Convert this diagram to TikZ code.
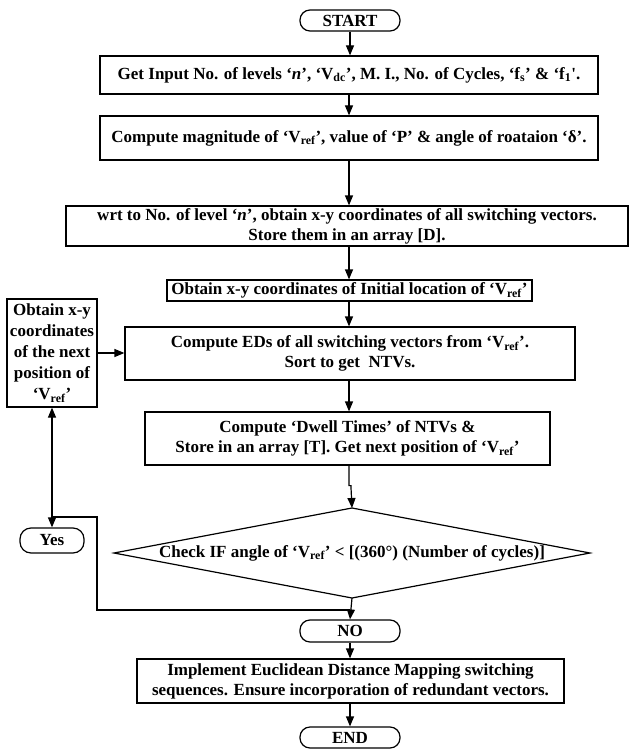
\documentclass[tikz,border=0pt]{standalone}
\usepackage{fontspec}
\setmainfont{Liberation Serif}
\usetikzlibrary{arrows.meta,calc}
\tikzset{
  base/.style={draw, line width=1.2pt, inner sep=0pt, align=center, font=\fontsize{17}{20}\selectfont\bfseries},
  proc/.style={base},
  term/.style={base, rounded corners=10pt, minimum width=100pt},
  arr/.style={line width=1.2pt, -{Triangle[length=10pt,width=8pt]}},
  arrs/.style={line width=1.2pt, {Triangle[length=10pt,width=8pt]}-{Triangle[length=10pt,width=8pt]}},
  ln/.style={line width=1.2pt},
}
\newcommand{\Vr}{V\textsubscript{ref}}
\begin{document}
\begin{tikzpicture}[x=1pt,y=-1pt]
\useasboundingbox (0,0) rectangle (630,749);
\node[term, minimum height=21pt] (start) at (350,20.5) {START};
\node[proc, minimum width=498pt, minimum height=38pt] (b1) at (349,75)
  {Get Input No. of levels ‘\textit{n}’, ‘V\textsubscript{dc}’, M. I., No. of Cycles, ‘f\textsubscript{s}’ \& ‘f\textsubscript{1}\textquotesingle.};
\node[proc, minimum width=498pt, minimum height=44pt] (b2) at (349,138)
  {Compute magnitude of ‘\Vr’, value of ‘P’ \& angle of roataion ‘δ’.};
\node[proc, minimum width=562pt, minimum height=40pt] (b3) at (347,226)
  {wrt to No. of level ‘\textit{n}’, obtain x-y coordinates of all switching vectors.\\ Store them in an array [D].};
\node[proc, minimum width=365pt, minimum height=21pt] (b4) at (349.5,290.5)
  {Obtain x-y coordinates of Initial location of ‘\Vr’};
\node[proc, minimum width=450pt, minimum height=53pt] (b5) at (350,353.5)
  {Compute EDs of all switching vectors from ‘\Vr’.\\ Sort to get\ \ NTVs.};
\node[proc, minimum width=90pt, minimum height=108pt, font=\fontsize{17}{21}\selectfont\bfseries] (lb) at (52,353)
  {Obtain x-y\\ coordinates\\ of the next\\ position of\\ ‘\Vr’};
\node[proc, minimum width=405pt, minimum height=53pt] (b6) at (347.5,438.5)
  {Compute ‘Dwell Times’ of NTVs \&\\ Store in an array [T]. Get next position of ‘\Vr’};
\node[base, draw=none] (dia) at (352,553)
  {Check IF angle of ‘\Vr’ < [(360°) (Number of cycles)]};
\coordinate (dT) at (352,508);
\coordinate (dB) at (352,598);
\coordinate (dL) at (114,553);
\coordinate (dR) at (590,553);
\draw[ln] (dT) -- (dR) -- (dB) -- (dL) -- cycle;
\node[term, minimum width=64pt, minimum height=25pt, rounded corners=11pt] (yes) at (52,540.5) {Yes};
\node[term, minimum height=22pt] (no) at (350,631) {NO};
\node[proc, minimum width=427pt, minimum height=44pt] (b7) at (350.5,681)
  {Implement Euclidean Distance Mapping switching\\ sequences. Ensure incorporation of redundant vectors.};
\node[term, minimum height=21pt] (end) at (350,737.5) {END};
\coordinate (j1) at (97,517);
\coordinate (j2) at (97,610);
% main flow
\draw[arr] (start.south) -- (start.south |- b1.north);
\draw[arr] (b1.south) -- (b1.south |- b2.north);
\draw[arr] (b2.south) -- (b2.south |- b3.north);
\draw[arr] (b2.south |- b3.south) -- (b2.south |- b4.north);
\draw[arr] (b2.south |- b4.south) -- (b2.south |- b5.north);
\draw[arr] (b2.south |- b5.south) -- (b2.south |- b6.north);
\draw[arr] (b2.south |- b6.south) -- ++(0,20) -- ++(2,0) -- ++(0,2) -- (dT);
\draw[arr] (dB) -- (no.north);
\draw[arr] (no.south) -- (no.south |- b7.north);
\draw[arr] (b7.south -| no.south) -- (end.north);
% loop
\draw[arr] (lb.east) -- (lb.east -| b5.west);
\draw[arrs] (yes.north) -- (lb.south);
\draw[ln] (yes.north |- j1) -- (j1) -- (j2) -- (j2 -| no.north);
\end{tikzpicture}
\end{document}
